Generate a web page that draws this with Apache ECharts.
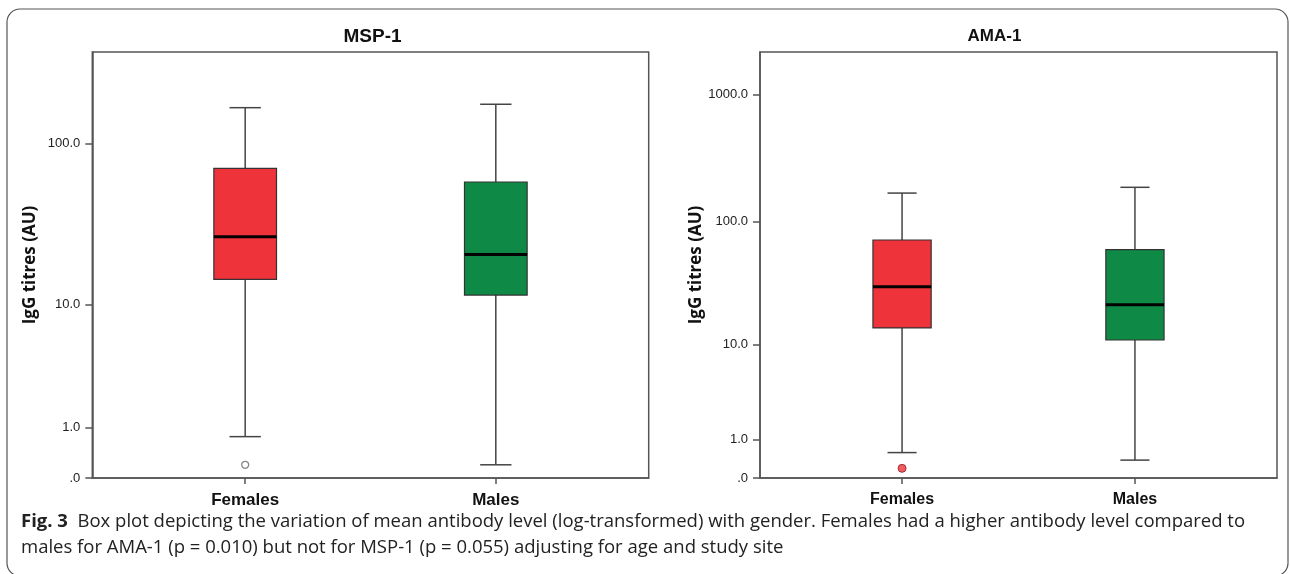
<!DOCTYPE html>
<html><head><meta charset="utf-8">
<script src="https://cdn.jsdelivr.net/npm/echarts@6/dist/echarts.min.js"></script>
<style>html,body{margin:0;padding:0;background:#fff}#c{width:1290px;height:574px}</style>
</head><body><div id="c"></div>
<script>
// ---------- data (antibody titres, AU) ----------
const categories = ['Females', 'Males'];
// box-plot five numbers: [lower whisker, Q1, median, Q3, upper whisker]
const msp1Females = [0.77, 14.5, 26.9, 70.9, 165];
const msp1Males   = [0.20, 11.5, 20.9, 58.5, 173];
const msp1Outliers = [[0, 0.20]];           // [category index, value]
const ama1Females = [0.58, 13.9, 30.3, 71.6, 168];
const ama1Males   = [0.38, 11.0, 21.6, 60.0, 186.5];
const ama1Outliers = [[0, 0.19]];
const msp1Ticks = [0, 1, 10, 100];
const msp1TickLabels = ['.0', '1.0', '10.0', '100.0'];
const ama1Ticks = [0, 1, 10, 100, 1000];
const ama1TickLabels = ['.0', '1.0', '10.0', '100.0', '1000.0'];
const msp1AxisMax = 357;
const ama1AxisMax = 2142;
const panelTitles = ['MSP-1', 'AMA-1'];
const yTitle = 'IgG titres (AU)';
const captionBold = 'Fig. 3';
const captionLine1 = 'Box plot depicting the variation of mean antibody level (log-transformed) with gender. Females had a higher antibody level compared to';
const captionLine2 = 'males for AMA-1 (p = 0.010) but not for MSP-1 (p = 0.055) adjusting for age and study site';

// ---------- styling ----------
const boxColors = ['#EF333A', '#0F8A46'];
const axisColor = '#555';
const tf = v => Math.log10(v + 1);   // SPSS log(x+1) scale

const chart = echarts.init(document.getElementById('c'), null, {renderer: 'canvas'});

function yAxisCfg(gridIndex, ticks, labels, maxV, nameGap) {
  const vals = ticks.map(tf);
  return {
    type: 'value', gridIndex, min: 0, max: tf(maxV),
    splitLine: {show: false},
    axisLine: {show: true, onZero: false, lineStyle: {color: axisColor, width: 1.5}},
    axisTick: {show: true, customValues: vals, length: 7, lineStyle: {color: axisColor, width: 1.5}},
    axisLabel: {
      customValues: vals, margin: 12, color: '#222', fontSize: 13, fontFamily: 'Liberation Sans',
      formatter: v => { const i = vals.findIndex(x => Math.abs(x - v) < 1e-6); return i >= 0 ? labels[i] : ''; }
    },
    name: yTitle, nameLocation: 'middle', nameGap,
    nameTextStyle: {fontFamily: 'Open Sans', fontWeight: 'bold', fontSize: 17, color: '#111'}
  };
}
function xAxisCfg(gridIndex, fontSize) {
  return {
    type: 'value', gridIndex, min: -0.61, max: 1.61,
    splitLine: {show: false},
    axisLine: {show: true, onZero: false, lineStyle: {color: axisColor, width: 1.5}},
    axisTick: {show: true, customValues: [0, 1], length: 6, lineStyle: {color: axisColor, width: 1.5}},
    axisLabel: {
      customValues: [0, 1], margin: 14, color: '#111', fontSize, fontWeight: 'bold', fontFamily: 'Liberation Sans',
      formatter: v => categories[Math.round(v)]
    }
  };
}
function renderBox(params, api) {
  const x = api.value(0);
  const c = y => api.coord([x, y]);
  const pLo = c(api.value(1)), pQ1 = c(api.value(2)), pMed = c(api.value(3)), pQ3 = c(api.value(4)), pHi = c(api.value(5));
  const cx = pLo[0];
  const hb = api.size([0.25, 0])[0] / 2;
  const hc = api.size([0.125, 0])[0] / 2;
  const ws = {stroke: '#444', lineWidth: 1.5};
  return {
    type: 'group', children: [
      {type: 'line', shape: {x1: cx, y1: pHi[1], x2: cx, y2: pQ3[1]}, style: ws},
      {type: 'line', shape: {x1: cx, y1: pQ1[1], x2: cx, y2: pLo[1]}, style: ws},
      {type: 'line', shape: {x1: cx - hc, y1: pHi[1], x2: cx + hc, y2: pHi[1]}, style: ws},
      {type: 'line', shape: {x1: cx - hc, y1: pLo[1], x2: cx + hc, y2: pLo[1]}, style: ws},
      {type: 'rect', shape: {x: cx - hb, y: pQ3[1], width: 2 * hb, height: pQ1[1] - pQ3[1]},
        style: {fill: boxColors[params.dataIndex], stroke: '#333', lineWidth: 1.2}},
      {type: 'line', shape: {x1: cx - hb, y1: pMed[1], x2: cx + hb, y2: pMed[1]}, style: {stroke: '#000', lineWidth: 3}}
    ]
  };
}
function boxData(f, m) {
  return [[0].concat(f.map(tf)), [1].concat(m.map(tf))];
}

const option = {
  backgroundColor: '#fff',
  animation: false,
  title: [
    {text: panelTitles[0], left: 367.5, top: 22, textAlign: 'center',
      textStyle: {fontFamily: 'Liberation Sans', fontWeight: 'bold', fontSize: 19, color: '#111'}},
    {text: panelTitles[1], left: 989.5, top: 23, textAlign: 'center',
      textStyle: {fontFamily: 'Liberation Sans', fontWeight: 'bold', fontSize: 17, color: '#111'}}
  ],
  grid: [
    {left: 92.3, top: 52, width: 556.4, height: 426, show: true, borderColor: axisColor, borderWidth: 1.5, containLabel: false},
    {left: 760, top: 52, width: 517, height: 426, show: true, borderColor: axisColor, borderWidth: 1.5, containLabel: false}
  ],
  xAxis: [xAxisCfg(0, 17), xAxisCfg(1, 16)],
  yAxis: [yAxisCfg(0, msp1Ticks, msp1TickLabels, msp1AxisMax, 54), yAxisCfg(1, ama1Ticks, ama1TickLabels, ama1AxisMax, 47)],
  series: [
    {type: 'custom', xAxisIndex: 0, yAxisIndex: 0, renderItem: renderBox, encode: {x: 0, y: [1, 2, 3, 4, 5]},
      data: boxData(msp1Females, msp1Males)},
    {type: 'scatter', xAxisIndex: 0, yAxisIndex: 0, symbolSize: 7,
      itemStyle: {color: '#fff', borderColor: '#666', borderWidth: 1.3},
      data: msp1Outliers.map(p => [p[0], tf(p[1])])},
    {type: 'custom', xAxisIndex: 1, yAxisIndex: 1, renderItem: renderBox, encode: {x: 0, y: [1, 2, 3, 4, 5]},
      data: boxData(ama1Females, ama1Males)},
    {type: 'scatter', xAxisIndex: 1, yAxisIndex: 1, symbolSize: 8,
      itemStyle: {color: boxColors[0], borderColor: '#8a1a1a', borderWidth: 1},
      data: ama1Outliers.map(p => [p[0], tf(p[1])])}
  ],
  graphic: [
    {type: 'rect', silent: true, z: 100, shape: {x: 7, y: 9, width: 1281, height: 567, r: 13},
      style: {fill: 'none', stroke: '#555', lineWidth: 1.2}},
    {type: 'text', left: 21, top: 509, z: 100,
      style: {
        text: '{b|' + captionBold + '}  ' + captionLine1 + '\n' + captionLine2,
        fontFamily: 'Open Sans', fontSize: 18.5, lineHeight: 26, fill: '#222',
        rich: {b: {fontFamily: 'Open Sans', fontWeight: 'bold', fontSize: 18.5, lineHeight: 26, fill: '#222'}}
      }}
  ]
};
chart.setOption(option);
</script>
</body></html>
